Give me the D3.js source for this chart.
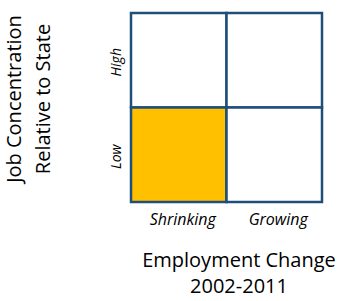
<!DOCTYPE html>
<html>
<head>
<meta charset="utf-8">
<script src="https://cdn.jsdelivr.net/npm/d3@7"></script>
<style>
  body { margin: 0; background: #fff; }
  text { font-family: "Open Sans", "Noto Sans", sans-serif; fill: #000; }
</style>
</head>
<body>
<svg id="chart" width="352" height="301"></svg>
<script>
const growthLevels = ["Shrinking", "Growing"];
const concentrationLevels = ["High", "Low"];
const highlighted = [["Shrinking", "Low"]];

const svg = d3.select("#chart");
const grid = {left: 131, right: 322, top: 13, bottom: 202};

const x = d3.scaleBand().domain(growthLevels).range([grid.left, grid.right]);
const y = d3.scaleBand().domain(concentrationLevels).range([grid.top, grid.bottom]);

const cells = [];
concentrationLevels.forEach(c => growthLevels.forEach(g => cells.push({g, c})));

svg.selectAll("rect.cell")
  .data(cells)
  .join("rect")
  .attr("class", "cell")
  .attr("x", d => x(d.g))
  .attr("y", d => y(d.c))
  .attr("width", x.bandwidth())
  .attr("height", y.bandwidth())
  .attr("fill", d => highlighted.some(h => h[0] === d.g && h[1] === d.c) ? "#FFC000" : "#fff")
  .attr("stroke", "#1F4E79")
  .attr("stroke-width", 2.5);

// column labels
svg.selectAll("text.col")
  .data(growthLevels)
  .join("text")
  .attr("class", "col")
  .attr("x", d => x(d) + x.bandwidth() / 2 + 4)
  .attr("y", 225)
  .attr("text-anchor", "middle")
  .attr("font-size", "16px")
  .attr("font-style", "italic")
  .text(d => d);

// row labels
svg.selectAll("text.row")
  .data(concentrationLevels)
  .join("text")
  .attr("class", "row")
  .attr("transform", d => `translate(121,${y(d) + y.bandwidth() / 2 + 2}) rotate(-90)`)
  .attr("text-anchor", "middle")
  .attr("font-size", "14px")
  .attr("font-style", "italic")
  .text(d => d);

// y axis title
const yTitle = svg.append("text")
  .attr("transform", "translate(0,99) rotate(-90)")
  .attr("text-anchor", "middle")
  .attr("font-size", "20px");
yTitle.append("tspan").attr("x", 0).attr("y", 21).text("Job Concentration");
yTitle.append("tspan").attr("x", 0).attr("y", 50).text("Relative to State");

// x axis title
const xTitle = svg.append("text")
  .attr("text-anchor", "middle")
  .attr("font-size", "20px");
xTitle.append("tspan").attr("x", 239).attr("y", 267).text("Employment Change");
xTitle.append("tspan").attr("x", 239).attr("y", 293).text("2002-2011");
</script>
</body>
</html>
